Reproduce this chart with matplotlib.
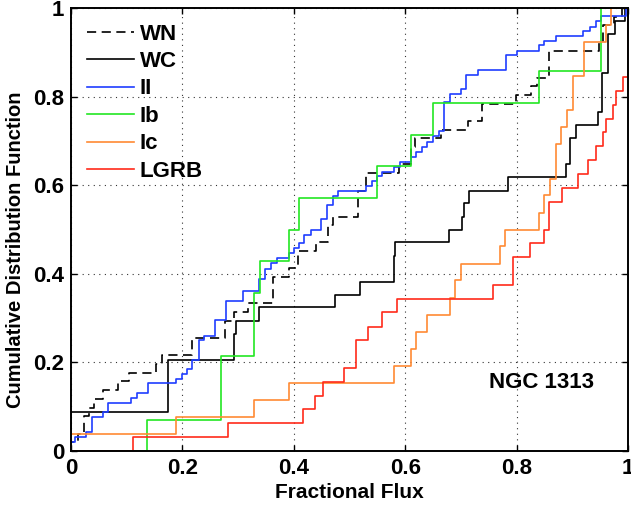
import matplotlib
matplotlib.use("Agg")
import matplotlib.pyplot as plt

# ---- data (step locations and CDF level after each step) ----
wn_x = [0.0, 0.012, 0.023, 0.032, 0.041, 0.058, 0.085, 0.104, 0.153, 0.164,
        0.217, 0.276, 0.293, 0.317, 0.363, 0.392, 0.407, 0.440, 0.462, 0.470,
        0.515, 0.530, 0.589, 0.610, 0.617, 0.664, 0.712, 0.737, 0.799, 0.826,
        0.836, 0.858, 0.948, 0.955, 0.975, 0.990]
wn_y = [0.020, 0.039, 0.078, 0.098, 0.118, 0.137, 0.157, 0.176, 0.196, 0.216,
        0.255, 0.294, 0.314, 0.333, 0.392, 0.412, 0.451, 0.471, 0.510, 0.529,
        0.588, 0.627, 0.647, 0.686, 0.706, 0.725, 0.745, 0.784, 0.804, 0.824,
        0.843, 0.902, 0.922, 0.961, 0.980, 1.0]

wc_x = [0.0, 0.175, 0.293, 0.297, 0.338, 0.474, 0.519, 0.579, 0.582, 0.679,
        0.702, 0.706, 0.714, 0.785, 0.889, 0.895, 0.907, 0.946, 0.953, 0.964,
        0.977, 0.995]
wc_y = [0.088, 0.206, 0.265, 0.294, 0.324, 0.353, 0.382, 0.441, 0.471, 0.500,
        0.529, 0.559, 0.588, 0.618, 0.647, 0.706, 0.735, 0.765, 0.853, 0.941,
        0.971, 1.0]

ii_x = [0.0, 0.008, 0.027, 0.037, 0.057, 0.067, 0.107, 0.118, 0.138, 0.188,
        0.199, 0.209, 0.218, 0.229, 0.239, 0.258, 0.278, 0.309, 0.338, 0.349,
        0.359, 0.370, 0.391, 0.400, 0.410, 0.419, 0.430, 0.449, 0.459, 0.470,
        0.480, 0.530, 0.540, 0.550, 0.559, 0.580, 0.590, 0.610, 0.620, 0.630,
        0.640, 0.650, 0.660, 0.670, 0.680, 0.700, 0.709, 0.730, 0.781, 0.800,
        0.841, 0.850, 0.871, 0.920, 0.931, 0.942, 0.952, 0.997]
ii_y = [0.021, 0.032, 0.044, 0.076, 0.087, 0.109, 0.119, 0.131, 0.153, 0.163,
        0.174, 0.185, 0.206, 0.250, 0.259, 0.295, 0.338, 0.361, 0.389, 0.410,
        0.425, 0.436, 0.448, 0.459, 0.470, 0.487, 0.500, 0.523, 0.556, 0.576,
        0.587, 0.599, 0.610, 0.620, 0.629, 0.641, 0.652, 0.664, 0.674, 0.686,
        0.697, 0.711, 0.722, 0.787, 0.806, 0.818, 0.849, 0.861, 0.893, 0.904,
        0.916, 0.926, 0.937, 0.948, 0.958, 0.970, 0.982, 1.0]

ib_x = [0.137, 0.269, 0.329, 0.339, 0.391, 0.409, 0.550, 0.610, 0.650, 0.841, 0.952]
ib_y = [0.071, 0.214, 0.357, 0.429, 0.500, 0.571, 0.643, 0.714, 0.786, 0.857, 1.0]

ic_x = [0.0, 0.188, 0.329, 0.391, 0.579, 0.610, 0.619, 0.640, 0.680, 0.690,
        0.700, 0.770, 0.780, 0.840, 0.850, 0.860, 0.871, 0.880, 0.891, 0.901,
        0.921, 0.961, 0.970]
ic_y = [0.038, 0.077, 0.115, 0.154, 0.192, 0.231, 0.269, 0.308, 0.346, 0.385,
        0.423, 0.462, 0.500, 0.538, 0.577, 0.615, 0.692, 0.731, 0.769, 0.846,
        0.923, 0.962, 1.0]

lgrb_x = [0.111, 0.281, 0.416, 0.438, 0.453, 0.491, 0.512, 0.534, 0.558, 0.586,
          0.757, 0.793, 0.824, 0.850, 0.859, 0.882, 0.910, 0.928, 0.942, 0.955,
          0.961, 0.973, 0.979, 0.991, 1.0]
lgrb_y = [0.031, 0.063, 0.094, 0.125, 0.156, 0.188, 0.250, 0.281, 0.313, 0.344,
          0.375, 0.438, 0.469, 0.500, 0.563, 0.594, 0.625, 0.656, 0.688, 0.719,
          0.750, 0.781, 0.813, 0.844, 1.0]

labels = ["WN", "WC", "II", "Ib", "Ic", "LGRB"]
colors = ["black", "black", "#1f3dff", "#22e622", "#ff8a33", "#ff2a1a"]
styles = [(0, (5.5, 3.3)), "-", "-", "-", "-", "-"]
series = [(wn_x, wn_y), (wc_x, wc_y), (ii_x, ii_y), (ib_x, ib_y),
          (ic_x, ic_y), (lgrb_x, lgrb_y)]

ticks = [0, 0.2, 0.4, 0.6, 0.8, 1]
tick_labels = ["0", "0.2", "0.4", "0.6", "0.8", "1"]

plt.rcParams["font.family"] = ["Liberation Sans", "DejaVu Sans"]
plt.rcParams["font.weight"] = "bold"

fig = plt.figure(figsize=(6.31, 5.08), dpi=100)
ax = fig.add_axes([71 / 631, 1 - 451 / 508, 557 / 631, 443 / 508])

for (xs, ys), lab, col, ls in zip(series, labels, colors, styles):
    xp = [-0.1] + list(xs) + [1.1]
    yp = [0.0] + list(ys) + [ys[-1]]
    ax.step(xp, yp, where="post", color=col, linestyle=ls, lw=1.2, label=lab)

ax.set_xlim(0, 1)
ax.set_ylim(0, 1)
ax.set_xticks(ticks)
ax.set_xticklabels(tick_labels)
ax.set_yticks(ticks)
ax.set_yticklabels(tick_labels)
ax.tick_params(direction="in", length=4, width=1.0, top=True, right=True,
               labelsize=16, pad=5)
ax.grid(True, linestyle=(0, (1, 4)), color="black", lw=0.8, alpha=0.8)
for s in ax.spines.values():
    s.set_linewidth(1.4)

ax.set_xlabel("Fractional Flux", fontsize=15, fontweight="bold", labelpad=3)
ax.set_ylabel("Cumulative Distribution Function", fontsize=14.5,
              fontweight="bold")
ax.yaxis.set_label_coords(-0.083, 0.455)

ax.text(0.845, 0.155, "NGC 1313", transform=ax.transAxes, fontsize=16,
        fontweight="bold", ha="center", va="center")

leg = ax.legend(loc="upper left", frameon=False, fontsize=16,
                handlelength=2.15, handletextpad=0.25, labelspacing=0.29,
                borderaxespad=0.0, borderpad=0.0,
                bbox_to_anchor=(0.028, 0.965))

fig.savefig("out.png", dpi=100)
